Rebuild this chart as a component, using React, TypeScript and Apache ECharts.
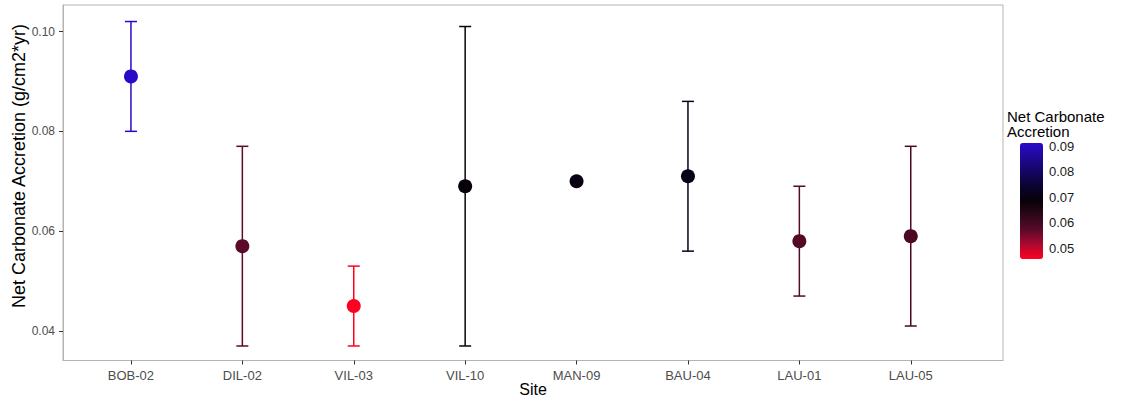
import React, { useEffect, useRef } from "react";
import * as echarts from "echarts";

const sites = ["BOB-02", "DIL-02", "VIL-03", "VIL-10", "MAN-09", "BAU-04", "LAU-01", "LAU-05"];
const meanValues = [0.091, 0.057, 0.045, 0.069, 0.070, 0.071, 0.058, 0.059];
const lowerValues: (number | null)[] = [0.080, 0.037, 0.037, 0.037, null, 0.056, 0.047, 0.041];
const upperValues: (number | null)[] = [0.102, 0.077, 0.053, 0.101, null, 0.086, 0.069, 0.077];
const yTicks = [0.04, 0.06, 0.08, 0.10];
const legendTicks = [0.05, 0.06, 0.07, 0.08, 0.09];
const colorMin = 0.0457;
const colorMax = 0.0912;
const colorStops = ["#ff0020", "#ad0830", "#5a0a2a", "#2e0818", "#080208", "#0a0330", "#140562", "#200896", "#2a0acc"];

export default function App() {
  const ref = useRef<HTMLDivElement>(null);
  useEffect(() => {
    if (!ref.current) return;
    const chart = echarts.init(ref.current, null, { renderer: "svg" });
    const data = sites.map((s, i) => [i, meanValues[i], lowerValues[i], upperValues[i]]);
    const font = "Liberation Sans, Arial, sans-serif";
    chart.setOption({
      animation: false,
      backgroundColor: "#ffffff",
      textStyle: { fontFamily: font },
      grid: [
        {
          left: 63, top: 5, width: 940, height: 355.5, show: true,
          borderColor: "#b3b3b3", borderWidth: 1, backgroundColor: "transparent",
          containLabel: false, outerBoundsMode: "none",
        },
        { left: 1020, top: 143, width: 23, height: 116, show: false, containLabel: false, outerBoundsMode: "none" },
      ],
      xAxis: [
        {
          type: "value",
          gridIndex: 0,
          min: -0.61,
          max: 7.828,
          axisLine: { show: true, onZero: false, lineStyle: { color: "#b3b3b3", width: 1 } },
          splitLine: { show: false },
          axisTick: { show: true, customValues: sites.map((s, i) => i), length: 4, lineStyle: { color: "#333333" } },
          axisLabel: {
            customValues: sites.map((s, i) => i),
            formatter: (v: number) => sites[Math.round(v)] ?? "",
            color: "#4d4d4d",
            fontSize: 13,
            margin: 8,
            fontFamily: font,
          },
        },
        { type: "value", gridIndex: 1, show: false, min: 0, max: 1, axisLine: { onZero: false } },
      ],
      yAxis: [
        {
          type: "value",
          gridIndex: 0,
          min: 0.03409,
          max: 0.10531,
          axisLine: { show: true, onZero: false, lineStyle: { color: "#b3b3b3", width: 1 } },
          splitLine: { show: false },
          axisTick: { show: true, customValues: yTicks, length: 4, lineStyle: { color: "#333333" } },
          axisLabel: {
            customValues: yTicks,
            formatter: (v: number) => v.toFixed(2),
            color: "#4d4d4d",
            fontSize: 12,
            margin: 8,
            fontFamily: font,
          },
        },
        {
          type: "value",
          gridIndex: 1,
          position: "right",
          min: colorMin,
          max: colorMax,
          axisLine: { show: false, onZero: false },
          splitLine: { show: false },
          axisTick: { show: true, inside: true, customValues: legendTicks, length: 4, lineStyle: { color: "#ffffff", width: 1 } },
          axisLabel: {
            customValues: legendTicks,
            formatter: (v: number) => v.toFixed(2),
            color: "#1a1a1a",
            fontSize: 13,
            margin: 6,
            fontFamily: font,
          },
        },
      ],
      visualMap: {
        type: "continuous",
        min: colorMin,
        max: colorMax,
        dimension: 1,
        seriesIndex: [0, 1],
        inRange: { color: colorStops },
        left: 1020,
        top: 143,
        itemWidth: 23,
        itemHeight: 116,
        calculable: false,
        padding: 0,
        orient: "vertical",
        text: null,
      },
      graphic: [
        {
          type: "text",
          x: 19,
          y: 166,
          rotation: Math.PI / 2,
          style: {
            text: "Net Carbonate Accretion (g/cm2*yr)",
            fontSize: 18,
            fill: "#000000",
            fontFamily: font,
            align: "center",
            verticalAlign: "middle",
          },
        },
        {
          type: "text",
          x: 533,
          y: 389,
          style: {
            text: "Site",
            fontSize: 16,
            fill: "#000000",
            fontFamily: font,
            align: "center",
            verticalAlign: "middle",
          },
        },
        {
          type: "text",
          left: 1007,
          top: 109,
          style: { text: "Net Carbonate", fontSize: 15, fill: "#000000", fontFamily: font },
        },
        {
          type: "text",
          left: 1007,
          top: 124,
          style: { text: "Accretion", fontSize: 15, fill: "#000000", fontFamily: font },
        },
      ],
      series: [
        {
          type: "custom",
          xAxisIndex: 0,
          yAxisIndex: 0,
          data,
          encode: { x: 0, y: 1 },
          z: 2,
          renderItem: (params: any, api: any) => {
            const x = api.value(0);
            const low = api.value(2);
            const high = api.value(3);
            if (low == null || high == null || isNaN(low) || isNaN(high)) return null;
            const pLow = api.coord([x, low]);
            const pHigh = api.coord([x, high]);
            const color = api.visual("color");
            const hw = 6;
            const style = { stroke: color, lineWidth: 1.5 };
            return {
              type: "group",
              children: [
                { type: "line", shape: { x1: pLow[0], y1: pLow[1], x2: pHigh[0], y2: pHigh[1] }, style },
                { type: "line", shape: { x1: pLow[0] - hw, y1: pLow[1], x2: pLow[0] + hw, y2: pLow[1] }, style },
                { type: "line", shape: { x1: pHigh[0] - hw, y1: pHigh[1], x2: pHigh[0] + hw, y2: pHigh[1] }, style },
              ],
            };
          },
        },
        {
          type: "scatter",
          xAxisIndex: 0,
          yAxisIndex: 0,
          data,
          encode: { x: 0, y: 1 },
          symbol: "circle",
          symbolSize: 14,
          itemStyle: { opacity: 1 },
          z: 3,
        },
      ],
    });
    return () => chart.dispose();
  }, []);
  return <div ref={ref} style={{ position: "absolute", left: 0, top: 0, width: 1128, height: 400 }} />;
}
